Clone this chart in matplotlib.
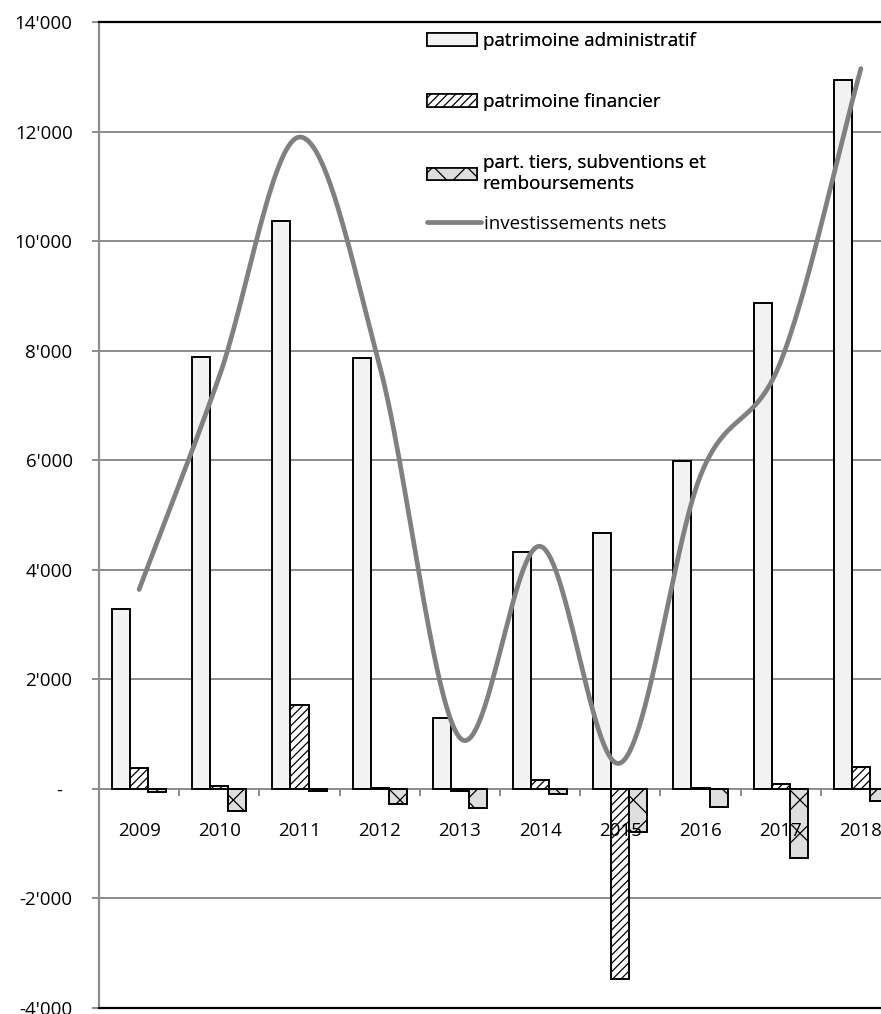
import numpy as np
import matplotlib.pyplot as plt
from matplotlib.patches import Patch
from matplotlib.lines import Line2D
from matplotlib.ticker import FixedLocator, FuncFormatter


years = ['2009', '2010', '2011', '2012', '2013', '2014', '2015', '2016', '2017', '2018']
admin = [3290, 7880, 10360, 7860, 1290, 4330, 4680, 5990, 8870, 12950]
financier = [380, 60, 1540, 10, -40, 160, -3470, 10, 90, 400]
tiers = [-50, -400, -30, -280, -350, -90, -790, -330, -1270, -230]
nets = [3640, 7530, 11900, 7720, 930, 4430, 470, 5720, 7800, 13150]

labels = ['patrimoine administratif', 'patrimoine financier',
          'part. tiers, subventions et\nremboursements', 'investissements nets']
yticks = [-4000, -2000, 0, 2000, 4000, 6000, 8000, 10000, 12000, 14000]


def catmull_rom(x, y, steps=30):
    # smooth line through the points like the excel "smoothed line" option
    x = np.asarray(x, dtype=float)
    y = np.asarray(y, dtype=float)
    px = np.concatenate([[2*x[0]-x[1]], x, [2*x[-1]-x[-2]]])
    py = np.concatenate([[y[0]], y, [y[-1]]])
    xs, ys = [], []
    t = np.linspace(0, 1, steps)
    for i in range(1, len(px)-2):
        for arr, out in ((px, xs), (py, ys)):
            p0, p1, p2, p3 = arr[i-1], arr[i], arr[i+1], arr[i+2]
            m1 = (p2-p0)/2
            m2 = (p3-p1)/2
            if arr is py and i == 1:
                m1 = p2-p1
            if arr is py and i == len(px)-3:
                m2 = p2-p1
            h00 = 2*t**3-3*t**2+1
            h10 = t**3-2*t**2+t
            h01 = -2*t**3+3*t**2
            h11 = t**3-t**2
            out.extend(h00*p1+h10*m1+h01*p2+h11*m2)
    return np.array(xs), np.array(ys)


def fmt(v, pos):
    if v == 0:
        return '-  '
    s = '{:,.0f}'.format(v).replace(',', "'")
    return s


plt.rcParams['font.family'] = ['Open Sans', 'DejaVu Sans']
plt.rcParams['hatch.linewidth'] = 0.9
fs = 13.5

fig = plt.figure(figsize=(8.81, 10.14), dpi=100)
ax = fig.add_axes([99/881, 6/1014, 802/881, 986/1014])

x = np.arange(len(years))
w = 0.225
gray = '#8c8c8c'

ax.bar(x-w, admin, w, color='#f2f2f2', edgecolor='black', linewidth=1.4, zorder=2)
ax.bar(x, financier, w, color='white', edgecolor='black', linewidth=1.4, hatch='////', zorder=2)
ax.bar(x+w, tiers, w, color='#dedede', edgecolor='black', linewidth=1.4, hatch='x', zorder=2)

sx, sy = catmull_rom(x, nets)
ax.plot(sx, sy, color='#808080', linewidth=3.4, solid_capstyle='round', zorder=3)

ax.set_xlim(-0.5, 9.5)
ax.set_ylim(-4000, 14000)
ax.set_yticks(yticks)
ax.yaxis.set_major_formatter(FuncFormatter(fmt))
ax.yaxis.grid(True, color=gray, linewidth=1.4)
ax.set_axisbelow(True)
ax.tick_params(axis='y', direction='out', length=5, width=1.4, color=gray,
               labelsize=fs, pad=14)
ax.tick_params(axis='x', bottom=False, labelbottom=False)

ax.spines['right'].set_visible(False)
ax.spines['left'].set_color(gray)
ax.spines['left'].set_linewidth(1.6)
ax.spines['top'].set_linewidth(1.6)
ax.spines['bottom'].set_linewidth(1.6)

# category axis sitting on the zero line
sec = ax.secondary_xaxis(4000/18000)
sec.set_zorder(5)
sec.spines['bottom'].set_visible(False)
sec.xaxis.set_major_locator(FixedLocator(np.arange(-0.5, 10, 1)))
sec.xaxis.set_major_formatter(FuncFormatter(lambda v, p: ''))
sec.xaxis.set_minor_locator(FixedLocator(x))
sec.set_xticklabels(years, minor=True)
sec.tick_params(axis='x', which='major', direction='out', length=5, width=1.4, color=gray)
sec.tick_params(axis='x', which='minor', length=0, labelsize=fs, pad=24)

# legends
handles = [Patch(facecolor='#f2f2f2', edgecolor='black', linewidth=1.2),
           Patch(facecolor='white', edgecolor='black', linewidth=1.2, hatch='////'),
           Patch(facecolor='#dedede', edgecolor='black', linewidth=1.2, hatch='x')]
leg1 = fig.legend(handles, labels[:3], loc='upper left',
                  bbox_to_anchor=(427/881, 1-32/1014), frameon=False,
                  fontsize=fs, handlelength=2.67, handleheight=0.64,
                  handletextpad=0.3, labelspacing=2.3, borderpad=0, borderaxespad=0)
leg2 = fig.legend([Line2D([], [], color='#808080', linewidth=3.4, solid_capstyle='round')],
                  labels[3:], loc='upper left',
                  bbox_to_anchor=(427/881, 1-215/1014), frameon=False,
                  fontsize=fs, handlelength=2.9, handletextpad=0.15,
                  borderpad=0, borderaxespad=0)
fig.add_artist(leg1)

fig.savefig('out.png', dpi=100)
